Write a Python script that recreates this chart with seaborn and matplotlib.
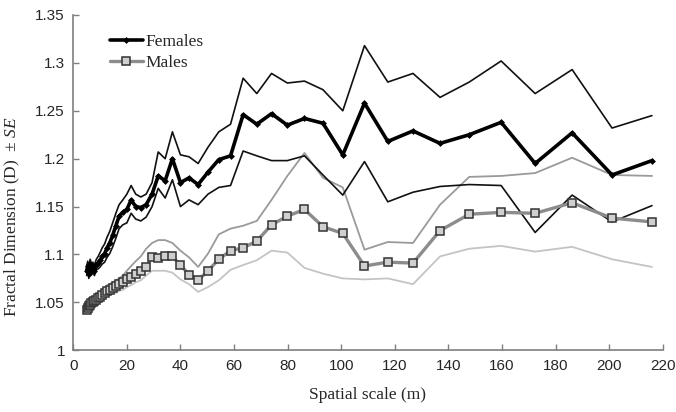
import matplotlib
matplotlib.use('Agg')
import matplotlib.pyplot as plt
import seaborn as sns
import pandas as pd

# spatial scale (m)
scale = [5.0, 5.4, 5.8, 6.3, 6.8, 7.3, 7.9, 8.6, 9.3, 10.0,
         10.8, 11.7, 12.6, 13.6, 14.7, 15.9, 17.1, 18.5, 20.0, 21.6,
         23.3, 25.2, 27.2, 29.4, 31.7, 34.3, 37.0, 40.0, 43.2, 46.6,
         50.3, 54.3, 58.7, 63.4, 68.5, 74.0, 79.9, 86.3, 93.2, 100.6,
         108.7, 117.4, 126.8, 136.9, 147.8, 159.7, 172.4, 186.2, 201.1, 216.0]

# females: mean and +/- SE
fem_mean = [1.083, 1.088, 1.080, 1.090, 1.084, 1.087, 1.083, 1.089, 1.091, 1.094,
            1.098, 1.101, 1.107, 1.112, 1.120, 1.130, 1.140, 1.144, 1.147, 1.157,
            1.150, 1.149, 1.152, 1.163, 1.182, 1.177, 1.200, 1.175, 1.180, 1.173,
            1.186, 1.199, 1.203, 1.246, 1.236, 1.247, 1.235, 1.242, 1.237, 1.204,
            1.258, 1.218, 1.229, 1.216, 1.225, 1.238, 1.195, 1.227, 1.183, 1.198]
fem_upper = [1.088, 1.093, 1.086, 1.095, 1.090, 1.092, 1.089, 1.095, 1.098, 1.102,
             1.107, 1.111, 1.118, 1.124, 1.133, 1.143, 1.152, 1.157, 1.163, 1.172,
             1.163, 1.160, 1.163, 1.175, 1.207, 1.200, 1.228, 1.204, 1.202, 1.195,
             1.212, 1.228, 1.236, 1.284, 1.268, 1.289, 1.279, 1.281, 1.272, 1.250,
             1.318, 1.280, 1.289, 1.264, 1.280, 1.302, 1.268, 1.293, 1.232, 1.245]
fem_lower = [1.078, 1.083, 1.075, 1.085, 1.079, 1.082, 1.078, 1.084, 1.085, 1.087,
             1.090, 1.092, 1.097, 1.101, 1.108, 1.117, 1.127, 1.131, 1.133, 1.143,
             1.137, 1.135, 1.139, 1.150, 1.169, 1.159, 1.178, 1.150, 1.157, 1.152,
             1.163, 1.170, 1.172, 1.208, 1.203, 1.198, 1.198, 1.203, 1.183, 1.162,
             1.197, 1.155, 1.165, 1.171, 1.173, 1.172, 1.123, 1.162, 1.134, 1.151]

# males: mean and +/- SE
male_mean = [1.042, 1.044, 1.046, 1.047, 1.049, 1.050, 1.051, 1.053, 1.055, 1.056,
             1.058, 1.060, 1.062, 1.063, 1.065, 1.067, 1.069, 1.071, 1.074, 1.077,
             1.080, 1.083, 1.087, 1.097, 1.096, 1.098, 1.098, 1.089, 1.079, 1.073,
             1.083, 1.095, 1.104, 1.107, 1.114, 1.131, 1.140, 1.147, 1.129, 1.122,
             1.088, 1.092, 1.091, 1.125, 1.142, 1.144, 1.143, 1.154, 1.138, 1.134]
male_upper = [1.044, 1.046, 1.048, 1.050, 1.052, 1.053, 1.055, 1.057, 1.059, 1.061,
              1.063, 1.065, 1.068, 1.069, 1.071, 1.073, 1.075, 1.078, 1.083, 1.088,
              1.093, 1.098, 1.106, 1.112, 1.115, 1.115, 1.112, 1.104, 1.097, 1.087,
              1.101, 1.121, 1.127, 1.130, 1.135, 1.157, 1.182, 1.206, 1.180, 1.170,
              1.105, 1.113, 1.112, 1.152, 1.181, 1.182, 1.185, 1.201, 1.183, 1.182]
male_lower = [1.040, 1.042, 1.044, 1.045, 1.046, 1.047, 1.048, 1.050, 1.051, 1.052,
              1.054, 1.055, 1.057, 1.058, 1.059, 1.060, 1.062, 1.063, 1.066, 1.068,
              1.071, 1.073, 1.078, 1.083, 1.083, 1.083, 1.081, 1.074, 1.069, 1.061,
              1.066, 1.073, 1.084, 1.089, 1.094, 1.104, 1.102, 1.086, 1.080, 1.075,
              1.074, 1.075, 1.069, 1.098, 1.106, 1.109, 1.103, 1.108, 1.095, 1.087]

df = pd.DataFrame({'scale': scale,
                   'fem_mean': fem_mean, 'fem_upper': fem_upper, 'fem_lower': fem_lower,
                   'male_mean': male_mean, 'male_upper': male_upper, 'male_lower': male_lower})

sns.set_style('ticks')
plt.rcParams['font.family'] = ['Liberation Sans', 'DejaVu Sans']
plt.rcParams['mathtext.fontset'] = 'custom'
plt.rcParams['mathtext.rm'] = 'Liberation Serif'
plt.rcParams['mathtext.it'] = 'Liberation Serif:italic'

fig = plt.figure(figsize=(6.76, 4.12), dpi=100)
ax = fig.add_axes([0.1084, 0.1498, 0.8719, 0.8138])

# SE lines
sns.lineplot(data=df, x='scale', y='male_lower', ax=ax, color='#c4c4c4', lw=1.3, estimator=None)
sns.lineplot(data=df, x='scale', y='male_upper', ax=ax, color='#9a9a9a', lw=1.3, estimator=None)
sns.lineplot(data=df, x='scale', y='fem_upper', ax=ax, color='#111111', lw=1.2, estimator=None)
sns.lineplot(data=df, x='scale', y='fem_lower', ax=ax, color='#111111', lw=1.2, estimator=None)

# means
sns.lineplot(data=df, x='scale', y='male_mean', ax=ax, color='#8c8c8c', lw=2.4, estimator=None,
             marker='s', markersize=5.5, markerfacecolor='#cfcfcf', markeredgecolor='#333333',
             markeredgewidth=1.1, label='Males')
sns.lineplot(data=df, x='scale', y='fem_mean', ax=ax, color='black', lw=2.6, estimator=None,
             marker='D', markersize=3.5, markeredgewidth=0, label='Females')

ax.set_xlim(0, 220)
ax.set_ylim(1.0, 1.35)
ax.set_xticks(range(0, 221, 20))
ax.set_yticks([1, 1.05, 1.1, 1.15, 1.2, 1.25, 1.3, 1.35])
ax.set_yticklabels(['1', '1.05', '1.1', '1.15', '1.2', '1.25', '1.3', '1.35'])
ax.tick_params(direction='in', length=4, width=1, color='#7f7f7f', labelsize=11, pad=6)

for side in ['top', 'right']:
    ax.spines[side].set_visible(False)
for side in ['left', 'bottom']:
    ax.spines[side].set_color('#7f7f7f')
    ax.spines[side].set_linewidth(1.2)

ax.set_xlabel('Spatial scale (m)', family='Liberation Serif', fontsize=12.5)
ax.set_ylabel(r'Fractal Dimension (D)  ± $\it{SE}$', family='Liberation Serif', fontsize=12.5)
ax.xaxis.set_label_coords(0.5, -0.11)
ax.yaxis.set_label_coords(-0.087, 0.40)

handles, labels = ax.get_legend_handles_labels()
order = [labels.index('Females'), labels.index('Males')]
ax.legend([handles[i] for i in order], [labels[i] for i in order],
          loc='upper left', bbox_to_anchor=(0.035, 0.99), frameon=False,
          prop={'family': 'Liberation Serif', 'size': 12.5},
          handlelength=1.9, handletextpad=0.15, labelspacing=0.3)

fig.savefig('out.png', dpi=100)
